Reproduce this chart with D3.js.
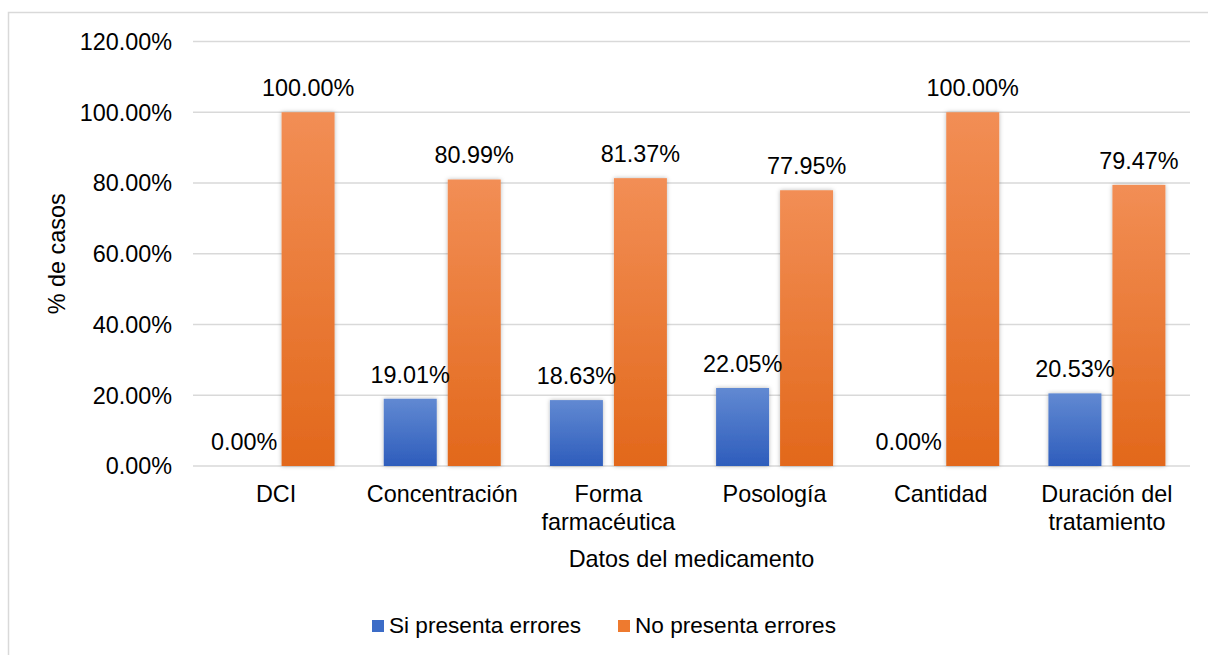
<!DOCTYPE html>
<html>
<head>
<meta charset="utf-8">
<script src="https://cdn.jsdelivr.net/npm/d3@7/dist/d3.min.js"></script>
<style>
  html, body { margin: 0; padding: 0; background: #fff; }
  svg { display: block; font-family: "Liberation Sans", Arial, sans-serif; }
</style>
</head>
<body>
<svg id="chart" width="1208" height="655"></svg>
<script>
// Medication data fields and the share of cases with / without errors
const categories = [["DCI"], ["Concentración"], ["Forma", "farmacéutica"], ["Posología"], ["Cantidad"], ["Duración del", "tratamiento"]];
const seriesNames = ["Si presenta errores", "No presenta errores"];
const siErrores = [0.00, 19.01, 18.63, 22.05, 0.00, 20.53];
const noErrores = [100.00, 80.99, 81.37, 77.95, 100.00, 79.47];
const yTicks = [0, 20, 40, 60, 80, 100, 120];
const seriesValues = [siErrores, noErrores];

const svg = d3.select("#chart");
const W = 1208, H = 655;
const plot = { left: 193, right: 1190, top: 41.5, bottom: 466 };
const fontSize = 23.4;

// Gradients for bar fills
const defs = svg.append("defs");
const gradients = [
  { id: "gBlue", top: "#6189D2", bottom: "#2E5DBC" },
  { id: "gOrange", top: "#F28E55", bottom: "#E2681B" }
];
gradients.forEach(g => {
  const lg = defs.append("linearGradient").attr("id", g.id)
    .attr("x1", 0).attr("y1", 0).attr("x2", 0).attr("y2", 1);
  lg.append("stop").attr("offset", "0%").attr("stop-color", g.top);
  lg.append("stop").attr("offset", "100%").attr("stop-color", g.bottom);
});
const shadow = defs.append("filter").attr("id", "barShadow")
  .attr("x", "-20%").attr("y", "-5%").attr("width", "140%").attr("height", "110%");
shadow.append("feDropShadow").attr("dx", 0).attr("dy", 0).attr("stdDeviation", 2.2)
  .attr("flood-color", "#000").attr("flood-opacity", 0.28);

// Chart frame
svg.append("path")
  .attr("d", `M8.5,${H} V12.5 H${W}`)
  .attr("fill", "none").attr("stroke", "#D9D9D9").attr("stroke-width", 1.5);

const labels = categories.map(c => c.join(" "));
const x = d3.scaleBand().domain(labels).range([plot.left, plot.right])
  .paddingInner(0.296).paddingOuter(0.148);
const xs = d3.scaleBand().domain(seriesNames).range([0, x.bandwidth()])
  .paddingInner(0.172).paddingOuter(0);
const y = d3.scaleLinear().domain([0, 120]).range([plot.bottom, plot.top]);

// Gridlines
svg.append("g").selectAll("line").data(yTicks).join("line")
  .attr("x1", plot.left).attr("x2", plot.right)
  .attr("y1", d => y(d)).attr("y2", d => y(d))
  .attr("stroke", "#D9D9D9").attr("stroke-width", 1.5);

// Y tick labels
svg.append("g").selectAll("text").data(yTicks).join("text")
  .attr("x", 172).attr("y", d => y(d)).attr("dy", "0.36em")
  .attr("text-anchor", "end").attr("font-size", fontSize).attr("fill", "#000")
  .text(d => d3.format(".2f")(d) + "%");

// Bars
const fills = ["url(#gBlue)", "url(#gOrange)"];
const barData = [];
labels.forEach((cat, i) => {
  seriesNames.forEach((s, j) => {
    barData.push({ cat, s, j, v: seriesValues[j][i] });
  });
});
svg.append("g").selectAll("rect").data(barData.filter(d => d.v > 0)).join("rect")
  .attr("x", d => x(d.cat) + xs(d.s))
  .attr("width", xs.bandwidth())
  .attr("y", d => y(d.v))
  .attr("height", d => y(0) - y(d.v))
  .attr("fill", d => fills[d.j])
  .attr("filter", "url(#barShadow)");

// Value labels
svg.append("g").selectAll("text").data(barData).join("text")
  .attr("x", d => x(d.cat) + xs(d.s) + xs.bandwidth() / 2)
  .attr("y", d => y(d.v) - 16)
  .attr("text-anchor", "middle").attr("font-size", fontSize).attr("fill", "#000")
  .text(d => d3.format(".2f")(d.v) + "%");

// Category labels
const catG = svg.append("g").selectAll("text").data(categories).join("text")
  .attr("x", (d, i) => x(labels[i]) + x.bandwidth() / 2)
  .attr("y", 502)
  .attr("text-anchor", "middle").attr("font-size", fontSize).attr("fill", "#000");
catG.selectAll("tspan").data(d => d).join("tspan")
  .attr("x", function () { return d3.select(this.parentNode).attr("x"); })
  .attr("dy", (d, k) => k === 0 ? 0 : 27.5)
  .text(d => d);

// Axis titles
svg.append("text")
  .attr("x", (plot.left + plot.right) / 2).attr("y", 566.5)
  .attr("text-anchor", "middle").attr("font-size", fontSize).attr("fill", "#000")
  .text("Datos del medicamento");
svg.append("text")
  .attr("transform", `translate(65,${(plot.top + plot.bottom) / 2}) rotate(-90)`)
  .attr("text-anchor", "middle").attr("font-size", fontSize).attr("fill", "#000")
  .text("% de casos");

// Legend
const legendColors = ["#3C6CC7", "#EE7A2F"];
const legendX = [372, 618];
const lg = svg.append("g").selectAll("g").data(seriesNames).join("g")
  .attr("transform", (d, i) => `translate(${legendX[i]},620)`);
lg.append("rect").attr("width", 12).attr("height", 12)
  .attr("fill", (d, i) => legendColors[i]);
lg.append("text").attr("x", 17).attr("y", 12.7)
  .attr("font-size", 22.6).attr("fill", "#000")
  .text(d => d);
</script>
</body>
</html>
